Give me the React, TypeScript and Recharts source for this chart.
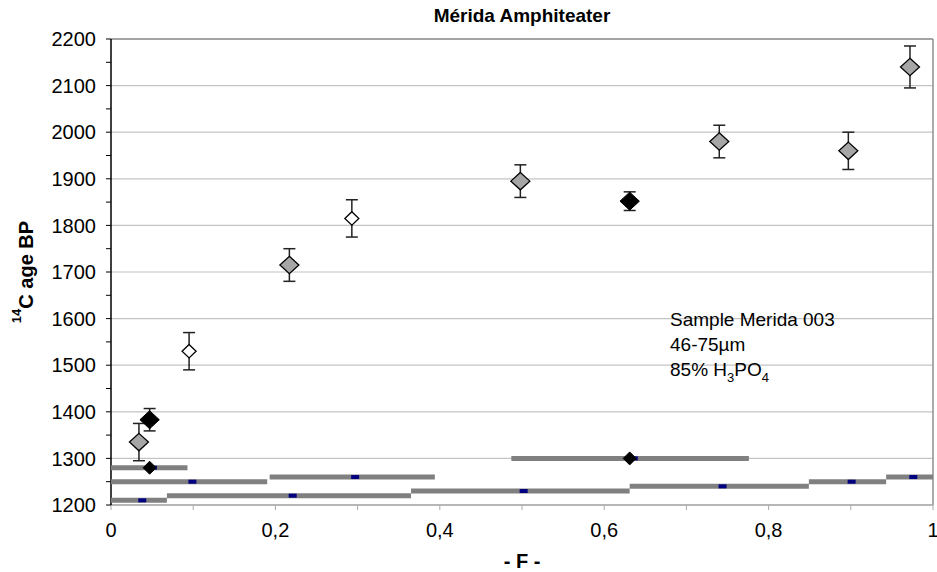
import React from 'react';
import { ScatterChart, Scatter, XAxis, YAxis, CartesianGrid, ErrorBar } from 'recharts';

const FONT = '"Liberation Sans", Arial, Helvetica, sans-serif';

// axis ticks
const xTicks = [0, 0.1, 0.2, 0.3, 0.4, 0.5, 0.6, 0.7, 0.8, 0.9, 1];
const xTickLabels = ['0', '', '0,2', '', '0,4', '', '0,6', '', '0,8', '', '1'];
const yTicks = [1200, 1250, 1300, 1350, 1400, 1450, 1500, 1550, 1600, 1650, 1700, 1750, 1800, 1850, 1900, 1950, 2000, 2050, 2100, 2150, 2200];
const gridAges = [1200, 1300, 1400, 1500, 1600, 1700, 1800, 1900, 2000, 2100, 2200];

// grey diamonds (cumulative fractions)
const greyF = [0.034, 0.217, 0.498, 0.74, 0.897, 0.972];
const greyAge = [1335, 1715, 1895, 1980, 1960, 2140];
const greyErr = [40, 35, 35, 35, 40, 45];

// open diamonds
const openF = [0.095, 0.293];
const openAge = [1530, 1815];
const openErr = [40, 40];

// black diamonds
const blackF = [0.047, 0.631];
const blackAge = [1383, 1852];
const blackErr = [24, 20];

// small black diamonds on the step bars
const markF = [0.047, 0.631];
const markAge = [1280, 1300];

// fraction steps (horizontal grey bars) with their mid marks
const stepStart = [0, 0, 0.068, 0.193, 0.365, 0.631, 0.849, 0.943, 0, 0.487];
const stepEnd = [0.068, 0.19, 0.365, 0.394, 0.631, 0.849, 0.943, 1.0, 0.093, 0.776];
const stepAge = [1210, 1250, 1220, 1260, 1230, 1240, 1250, 1260, 1280, 1300];
const stepMid = [0.038, 0.099, 0.221, 0.297, 0.502, 0.744, 0.901, 0.976, 0.051, 0.636];

const toPoints = (xs: number[], ys: number[], errs?: number[]) =>
  xs.map((x, i) => ({ x, y: ys[i], err: errs ? errs[i] : 0 }));

const greyData = toPoints(greyF, greyAge, greyErr);
const openData = toPoints(openF, openAge, openErr);
const blackData = toPoints(blackF, blackAge, blackErr);
const markData = toPoints(markF, markAge);
const midData = toPoints(stepMid, stepAge);
const stepData = stepAge.map((age, i) => [
  { x: stepStart[i], y: age },
  { x: stepEnd[i], y: age },
]);

const diamond = (hw: number, hh: number, fill: string, sw: number) => (props: any) => {
  const { cx, cy } = props;
  if (cx == null || cy == null) return <g />;
  return (
    <polygon
      points={`${cx},${cy - hh} ${cx + hw},${cy} ${cx},${cy + hh} ${cx - hw},${cy}`}
      fill={fill}
      stroke="#000"
      strokeWidth={sw}
    />
  );
};

const blueMark = (props: any) => {
  const { cx, cy } = props;
  if (cx == null || cy == null) return <g />;
  return <rect x={cx - 4} y={cy - 2} width={8} height={4} fill="#000080" />;
};

const noShape = () => <g />;

const YTitle = (props: any) => {
  const vb = props.viewBox || { x: 0, y: 39, width: 111, height: 466 };
  const cx = vb.x + 33;
  const cy = vb.y + vb.height / 2;
  return (
    <text
      x={cx}
      y={cy}
      transform={`rotate(-90, ${cx}, ${cy})`}
      textAnchor="middle"
      fontWeight="bold"
      fontSize={20}
      fill="#000"
      fontFamily={FONT}
    >
      <tspan fontSize={13} dy={-12}>14</tspan>
      <tspan dy={12}>C age BP</tspan>
    </text>
  );
};

const XTitle = (props: any) => {
  const vb = props.viewBox || { x: 111, y: 505, width: 822, height: 60 };
  return (
    <text
      x={vb.x + vb.width / 2}
      y={vb.y + 63}
      textAnchor="middle"
      fontWeight="bold"
      fontSize={20}
      fill="#000"
      fontFamily={FONT}
    >
      - F -
    </text>
  );
};

export default function App() {
  const tickStyle = { fontSize: 20, fill: '#000', fontFamily: FONT };
  return (
    <div style={{ position: 'absolute', left: 0, top: 0, width: 937, height: 572, background: '#fff', fontFamily: FONT }}>
      <ScatterChart width={937} height={572} margin={{ top: 39, right: 4, bottom: 7, left: 0 }}>
        <CartesianGrid vertical={false} horizontalValues={gridAges} stroke="#c4c4c4" strokeWidth={1.2} />
        <CartesianGrid horizontalValues={[2200]} verticalValues={[1]} stroke="#8f8f8f" strokeWidth={1.5} />
        <XAxis
          type="number"
          dataKey="x"
          domain={[0, 1]}
          ticks={xTicks}
          interval={0}
          tickFormatter={(_v: number, i: number) => xTickLabels[i]}
          height={60}
          tickSize={5}
          tickMargin={13}
          axisLine={{ stroke: '#a8a8a8', strokeWidth: 1.5 }}
          tickLine={{ stroke: '#a8a8a8' }}
          tick={tickStyle}
          label={(p: any) => <XTitle {...p} />}
        />
        <YAxis
          type="number"
          dataKey="y"
          domain={[1200, 2200]}
          ticks={yTicks}
          interval={0}
          tickFormatter={(v: number) => (v % 100 === 0 ? String(v) : '')}
          width={111}
          tickSize={5}
          tickMargin={10}
          axisLine={{ stroke: '#000', strokeWidth: 1.5 }}
          tickLine={{ stroke: '#000' }}
          tick={tickStyle}
          label={(p: any) => <YTitle {...p} />}
        />
        {stepData.map((d, i) => (
          <Scatter
            key={`step-${i}`}
            data={d}
            line={{ stroke: '#808080', strokeWidth: 5 }}
            shape={noShape}
            isAnimationActive={false}
            legendType="none"
          />
        ))}
        <Scatter data={midData} shape={blueMark} isAnimationActive={false} legendType="none" />
        <Scatter data={markData} shape={diamond(6.5, 6.5, '#000', 1)} isAnimationActive={false} legendType="none" />
        <Scatter data={greyData} shape={diamond(9.5, 8.7, '#a6a6a6', 1.3)} isAnimationActive={false} legendType="none">
          <ErrorBar dataKey="err" direction="y" width={6} stroke="#222" strokeWidth={1.5} />
        </Scatter>
        <Scatter data={openData} shape={diamond(7, 6.7, '#fff', 1.3)} isAnimationActive={false} legendType="none">
          <ErrorBar dataKey="err" direction="y" width={6} stroke="#222" strokeWidth={1.5} />
        </Scatter>
        <Scatter data={blackData} shape={diamond(9.7, 9, '#000', 1)} isAnimationActive={false} legendType="none">
          <ErrorBar dataKey="err" direction="y" width={6} stroke="#222" strokeWidth={1.5} />
        </Scatter>
      </ScatterChart>
      <svg width={937} height={572} style={{ position: 'absolute', left: 0, top: 0, pointerEvents: 'none' }}>
        <text x={522} y={22} textAnchor="middle" fontWeight="bold" fontSize={19} fill="#000" fontFamily={FONT}>
          Mérida Amphiteater
        </text>
        <text x={670} y={326} fontSize={19} fill="#000" fontFamily={FONT}>
          Sample Merida 003
        </text>
        <text x={670} y={351} fontSize={19} fill="#000" fontFamily={FONT}>
          46-75µm
        </text>
        <text x={670} y={376} fontSize={19} fill="#000" fontFamily={FONT}>
          <tspan>85% H</tspan>
          <tspan fontSize={13} dy={6}>3</tspan>
          <tspan dy={-6}>PO</tspan>
          <tspan fontSize={13} dy={6}>4</tspan>
        </text>
      </svg>
    </div>
  );
}
